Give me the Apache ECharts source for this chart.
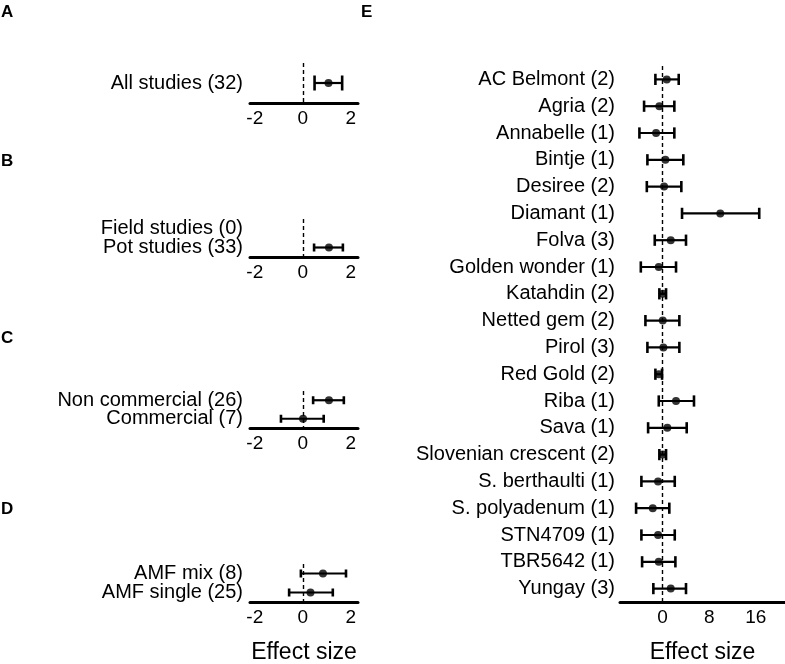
<!DOCTYPE html>
<html>
<head>
<meta charset="utf-8">
<script src="https://cdn.jsdelivr.net/npm/echarts@6/dist/echarts.min.js"></script>
<style>
html,body{margin:0;padding:0;background:#fff;}
#chart{width:785px;height:664px;}
</style>
</head>
<body>
<div id="chart"></div>
<script>
// ---- Data ----
// Panel A
const catsA = ['All studies (32)'];
const meanA = [1.07];
const lowA  = [0.49];
const highA = [1.64];
// Panel B
const catsB = ['Field studies (0)', 'Pot studies (33)'];
const meanB = [null, 1.09];
const lowB  = [null, 0.47];
const highB = [null, 1.67];
// Panel C
const catsC = ['Non commercial (26)', 'Commercial (7)'];
const meanC = [1.09, 0.01];
const lowC  = [0.43, -0.91];
const highC = [1.71, 0.87];
// Panel D
const catsD = ['AMF mix (8)', 'AMF single (25)'];
const meanD = [0.84, 0.32];
const lowD  = [-0.08, -0.57];
const highD = [1.80, 1.25];
// Panel E
const catsE = ['AC Belmont (2)', 'Agria (2)', 'Annabelle (1)', 'Bintje (1)', 'Desiree (2)',
  'Diamant (1)', 'Folva (3)', 'Golden wonder (1)', 'Katahdin (2)', 'Netted gem (2)',
  'Pirol (3)', 'Red Gold (2)', 'Riba (1)', 'Sava (1)', 'Slovenian crescent (2)',
  'S. berthaulti (1)', 'S. polyadenum (1)', 'STN4709 (1)', 'TBR5642 (1)', 'Yungay (3)'];
const meanE = [0.72, -0.55, -1.11, 0.48, 0.26, 9.9, 1.4, -0.65, 0.03, 0.03,
  0.14, -0.65, 2.31, 0.82, 0.03, -0.77, -1.68, -0.77, -0.65, 1.4];
const lowE  = [-1.23, -3.17, -3.97, -2.6, -2.7, 3.34, -1.34, -3.73, -0.55, -2.94,
  -2.6, -1.23, -0.65, -2.48, -0.55, -3.63, -4.54, -3.63, -3.51, -1.58];
const highE = [2.77, 2.02, 2.02, 3.56, 3.22, 16.58, 4.02, 2.31, 0.6, 2.88,
  2.88, -0.09, 5.39, 4.14, 0.6, 2.09, 1.16, 2.09, 2.2, 4.02];
// Tick labels
const ticksSmall = [-2, 0, 2];
const ticksE = [0, 8, 16];
const panelLetters = ['A', 'B', 'C', 'D', 'E'];
const axisTitle = 'Effect size';

// ---- Build chart ----
const FONT = 'Liberation Sans, Arial, Helvetica, sans-serif';
const panels = [
  {cats: catsA, mean: meanA, low: lowA, high: highA, grid: {left: 250, width: 108, top: 63, height: 40}, min: -2.2, max: 2.3, ticks: ticksSmall, name: '', labelMargin: 7},
  {cats: catsB, mean: meanB, low: lowB, high: highB, grid: {left: 250, width: 108, top: 219, height: 38}, min: -2.2, max: 2.3, ticks: ticksSmall, name: '', labelMargin: 7},
  {cats: catsC, mean: meanC, low: lowC, high: highC, grid: {left: 250, width: 108, top: 391, height: 37}, min: -2.2, max: 2.3, ticks: ticksSmall, name: '', labelMargin: 7},
  {cats: catsD, mean: meanD, low: lowD, high: highD, grid: {left: 250, width: 108, top: 564, height: 38}, min: -2.2, max: 2.3, ticks: ticksSmall, name: axisTitle, labelMargin: 7},
  {cats: catsE, mean: meanE, low: lowE, high: highE, grid: {left: 620, right: 0, top: 66, height: 536}, min: -7.3, max: 21, ticks: ticksE, name: axisTitle, labelMargin: 5}
];

const grids = [], xAxes = [], yAxes = [], series = [];
panels.forEach((p, i) => {
  grids.push(Object.assign({containLabel: false, outerBoundsMode: 'none'}, p.grid));
  xAxes.push({
    type: 'value', gridIndex: i, min: p.min, max: p.max,
    axisLine: {show: true, onZero: false, lineStyle: {color: '#000', width: 3}},
    axisTick: {show: false},
    splitLine: {show: false},
    axisLabel: {customValues: p.ticks, color: '#000', fontSize: 19, fontFamily: FONT, margin: 6},
    name: p.name, nameLocation: 'middle', nameGap: 39,
    nameTextStyle: {color: '#000', fontSize: 23, fontFamily: FONT}
  });
  yAxes.push({
    type: 'category', gridIndex: i, data: p.cats, inverse: true,
    axisLine: {show: false}, axisTick: {show: false}, splitLine: {show: false},
    axisLabel: {color: '#000', fontSize: 20, fontFamily: FONT, margin: p.labelMargin, interval: 0}
  });
  const barData = [], ptData = [];
  p.cats.forEach((c, k) => {
    if (p.mean[k] != null) {
      barData.push([p.low[k], p.high[k], k]);
      ptData.push([p.mean[k], k]);
    }
  });
  series.push({
    type: 'custom', xAxisIndex: i, yAxisIndex: i, data: barData,
    encode: {x: [0, 1], y: 2}, silent: true, z: 3,
    renderItem: function (params, api) {
      const lo = api.coord([api.value(0), api.value(2)]);
      const hi = api.coord([api.value(1), api.value(2)]);
      const band = api.size([0, 1])[1];
      const h = Math.min(Math.max(band * 0.42, 8), 15) / 2;
      const st = {stroke: '#000', lineWidth: 2.2};
      return {type: 'group', children: [
        {type: 'line', shape: {x1: lo[0], y1: lo[1], x2: hi[0], y2: hi[1]}, style: st},
        {type: 'line', shape: {x1: lo[0], y1: lo[1] - h, x2: lo[0], y2: lo[1] + h}, style: {stroke: '#000', lineWidth: 2.6}},
        {type: 'line', shape: {x1: hi[0], y1: hi[1] - h, x2: hi[0], y2: hi[1] + h}, style: {stroke: '#000', lineWidth: 2.6}}
      ]};
    }
  });
  series.push({
    type: 'scatter', xAxisIndex: i, yAxisIndex: i, data: ptData,
    symbol: 'circle', symbolSize: 8, itemStyle: {color: '#000'}, z: 4, silent: true,
    markLine: {
      silent: true, symbol: 'none', label: {show: false},
      lineStyle: {color: '#000', type: [4, 3], width: 1.4},
      data: [{xAxis: 0}]
    }
  });
});

const letterPos = [[1, 4], [1, 153], [1, 330], [1, 501], [361, 4]];
const graphics = panelLetters.map((L, i) => ({
  type: 'text', left: letterPos[i][0], top: letterPos[i][1],
  style: {text: L, fill: '#000', font: 'bold 17px ' + FONT}
}));

const chart = echarts.init(document.getElementById('chart'), null, {renderer: 'canvas'});
chart.setOption({
  animation: false,
  backgroundColor: '#fff',
  grid: grids, xAxis: xAxes, yAxis: yAxes, series: series,
  graphic: graphics
});
</script>
</body>
</html>
